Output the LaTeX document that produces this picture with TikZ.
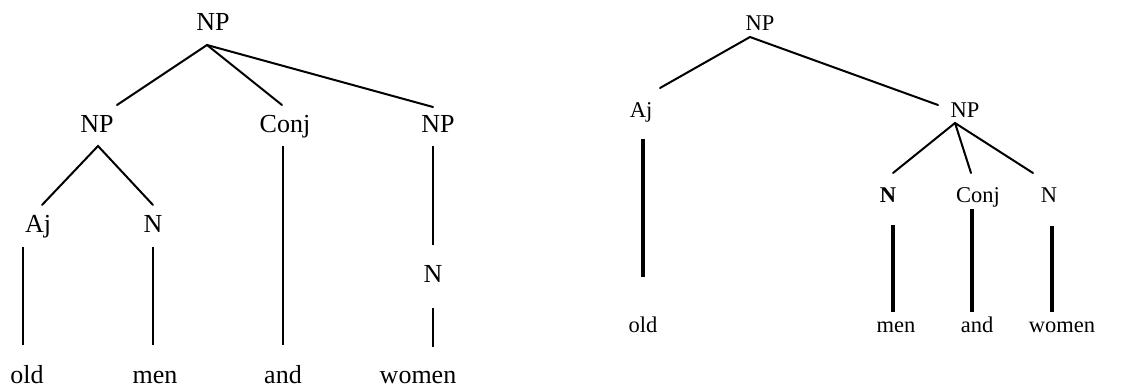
\documentclass[tikz,border=0pt]{standalone}
\usepackage{fontspec}
\setmainfont{Liberation Serif}
\begin{document}
\begin{tikzpicture}[x=1pt,y=-1pt,
  lab/.style={anchor=base,inner sep=0pt,font=\fontsize{26}{29}\selectfont},
  rlab/.style={anchor=base,inner sep=0pt,font=\fontsize{22.5}{25}\selectfont},
  branch/.style={line width=2pt,line cap=round},
  stem/.style={line width=2.4pt},
  rstem/.style={line width=3.2pt}]
\useasboundingbox (0,0) rectangle (1147,388);
% ---------- left tree ----------
\node[lab] (L0) at (213,30) {NP};
\node[lab] (L1) at (97,132) {NP};
\node[lab] (L2) at (285,132) {Conj};
\node[lab] (L3) at (438,132) {NP};
\node[lab] (L4) at (38,232) {Aj};
\node[lab] (L5) at (153,232) {N};
\node[lab] (L6) at (433,282) {N};
\node[lab] (W1) at (27,383) {old};
\node[lab] (W2) at (155,383) {men};
\node[lab] (W3) at (283,383) {and};
\node[lab] (W4) at (418,383) {women};
\coordinate (a0) at (207,45);
\coordinate (a1t) at (117,105);
\coordinate (a2t) at (282,105);
\coordinate (a3t) at (433,107);
\coordinate (a1) at (98,146);
\coordinate (a4t) at (42,205);
\coordinate (a5t) at (153,205);
\coordinate (a2b) at (283,146);
\coordinate (a2e) at (283,345);
\coordinate (a3b) at (433,146);
\coordinate (a3e) at (433,245);
\coordinate (a6b) at (433,308);
\coordinate (a6e) at (433,347);
\coordinate (a4b) at (23,247);
\coordinate (a4e) at (23,345);
\coordinate (a5b) at (153,247);
\coordinate (a5e) at (153,345);
\draw[branch] (a1t) -- (a0) -- (a2t);
\draw[branch] (a0) -- (a3t);
\draw[branch] (a4t) -- (a1) -- (a5t);
\draw[stem] (a2b) -- (a2e);
\draw[stem] (a3b) -- (a3e);
\draw[stem] (a6b) -- (a6e);
\draw[stem] (a4b) -- (a4e);
\draw[stem] (a5b) -- (a5e);
% ---------- right tree ----------
\node[rlab] (R0) at (760,30) {NP};
\node[rlab] (R1) at (641,117) {Aj};
\node[rlab] (R2) at (965,117) {NP};
\node[rlab] (R3) at (888,202) {\textbf{N}};
\node[rlab] (R4) at (978,202) {Conj};
\node[rlab] (R5) at (1049,202) {N};
\node[rlab] (V1) at (643,332) {old};
\node[rlab] (V2) at (896,332) {men};
\node[rlab] (V3) at (977,332) {and};
\node[rlab] (V4) at (1062,332) {women};
\coordinate (b0) at (750,37);
\coordinate (b1t) at (660,88);
\coordinate (b2t) at (938,105);
\coordinate (b2) at (955,123);
\coordinate (b3t) at (893,173);
\coordinate (b4t) at (971,173);
\coordinate (b5t) at (1033,173);
\coordinate (b1b) at (643,139);
\coordinate (b1e) at (643,277);
\coordinate (b3b) at (893,225);
\coordinate (b3e) at (893,312);
\coordinate (b4b) at (972,209);
\coordinate (b4e) at (972,312);
\coordinate (b5b) at (1052,226);
\coordinate (b5e) at (1052,312);
\draw[branch] (b1t) -- (b0) -- (b2t);
\draw[branch] (b3t) -- (b2) -- (b5t);
\draw[branch] (b2) -- (b4t);
\draw[rstem] (b1b) -- (b1e);
\draw[rstem] (b3b) -- (b3e);
\draw[rstem] (b4b) -- (b4e);
\draw[rstem] (b5b) -- (b5e);
\end{tikzpicture}
\end{document}
